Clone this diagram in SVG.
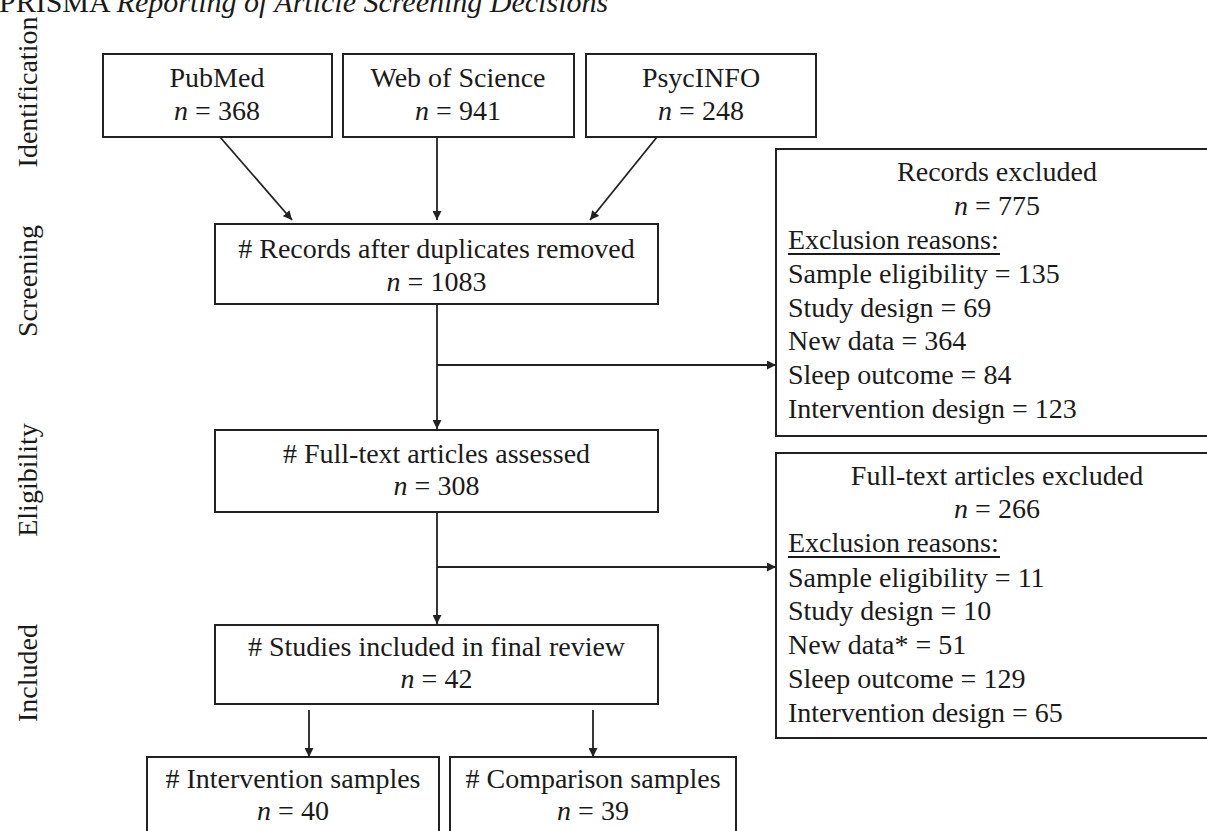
<svg xmlns="http://www.w3.org/2000/svg" width="1207" height="831" viewBox="0 0 1207 831">
<defs>
<style>
text{font-family:"Liberation Serif","Times New Roman",serif;font-size:28px;fill:#1a1a1a}
.c{text-anchor:middle}
.box{fill:#fff;stroke:#222;stroke-width:2}
.ln{stroke:#222;stroke-width:1.8;fill:none}
.it{font-style:italic}
.ul{stroke:#1a1a1a;stroke-width:2}
.title{font-size:30px}
</style>
<marker id="ah" viewBox="0 0 10 10" refX="10" refY="5" markerWidth="9" markerHeight="9" markerUnits="userSpaceOnUse" orient="auto">
<path d="M0,0 L10,5 L0,10 z" fill="#222"/>
</marker>
</defs>
<rect width="1207" height="831" fill="#fff"/>
<text class="title" x="-1" y="12">PRISMA <tspan class="it">Reporting of Article Screening Decisions</tspan></text>
<g id="phase-labels">
<text class="c" transform="translate(37,92) rotate(-90)">Identification</text>
<text class="c" transform="translate(37,281) rotate(-90)">Screening</text>
<text class="c" transform="translate(37,480) rotate(-90)">Eligibility</text>
<text class="c" transform="translate(37,673) rotate(-90)">Included</text>
</g>
<g id="connectors">
<line class="ln" x1="220" y1="137" x2="292" y2="220" marker-end="url(#ah)"/>
<line class="ln" x1="437" y1="137" x2="437" y2="220" marker-end="url(#ah)"/>
<line class="ln" x1="657" y1="137" x2="590" y2="220" marker-end="url(#ah)"/>
<line class="ln" x1="437" y1="304" x2="437" y2="429" marker-end="url(#ah)"/>
<line class="ln" x1="437" y1="365" x2="776" y2="365" marker-end="url(#ah)"/>
<line class="ln" x1="437" y1="512" x2="437" y2="624" marker-end="url(#ah)"/>
<line class="ln" x1="437" y1="567" x2="776" y2="567" marker-end="url(#ah)"/>
<line class="ln" x1="309" y1="710" x2="309" y2="757" marker-end="url(#ah)"/>
<line class="ln" x1="593" y1="710" x2="593" y2="757" marker-end="url(#ah)"/>
</g>
<g id="pubmed">
<rect class="box" x="103" y="54" width="229" height="83"/>
<text class="c" x="217" y="87">PubMed</text>
<text class="c" x="217" y="120"><tspan class="it">n</tspan> = 368</text>
</g>
<g id="wos">
<rect class="box" x="343" y="54" width="231" height="83"/>
<text class="c" x="458" y="87">Web of Science</text>
<text class="c" x="458" y="120"><tspan class="it">n</tspan> = 941</text>
</g>
<g id="psycinfo">
<rect class="box" x="586" y="54" width="230" height="83"/>
<text class="c" x="701" y="87">PsycINFO</text>
<text class="c" x="701" y="120"><tspan class="it">n</tspan> = 248</text>
</g>
<g id="records">
<rect class="box" x="215" y="224" width="443" height="80"/>
<text class="c" x="436.5" y="258"># Records after duplicates removed</text>
<text class="c" x="436.5" y="291"><tspan class="it">n</tspan> = 1083</text>
</g>
<g id="records-excluded">
<rect class="box" x="776" y="149" width="445" height="287"/>
<text class="c" x="997" y="181">Records excluded</text>
<text class="c" x="997" y="215"><tspan class="it">n</tspan> = 775</text>
<text x="788" y="249">Exclusion reasons:</text>
<line class="ul" x1="788" y1="254" x2="1000" y2="254"/>
<text x="788" y="283">Sample eligibility = 135</text>
<text x="788" y="317">Study design = 69</text>
<text x="788" y="350">New data = 364</text>
<text x="788" y="384">Sleep outcome = 84</text>
<text x="788" y="418">Intervention design = 123</text>
</g>
<g id="fulltext">
<rect class="box" x="215" y="430" width="443" height="82"/>
<text class="c" x="436.5" y="463"># Full-text articles assessed</text>
<text class="c" x="436.5" y="495"><tspan class="it">n</tspan> = 308</text>
</g>
<g id="fulltext-excluded">
<rect class="box" x="776" y="453" width="445" height="285"/>
<text class="c" x="997" y="485">Full-text articles excluded</text>
<text class="c" x="997" y="518"><tspan class="it">n</tspan> = 266</text>
<text x="788" y="552">Exclusion reasons:</text>
<line class="ul" x1="788" y1="557" x2="1000" y2="557"/>
<text x="788" y="587">Sample eligibility = 11</text>
<text x="788" y="620">Study design = 10</text>
<text x="788" y="654">New data* = 51</text>
<text x="788" y="688">Sleep outcome = 129</text>
<text x="788" y="722">Intervention design = 65</text>
</g>
<g id="studies">
<rect class="box" x="215" y="625" width="443" height="79"/>
<text class="c" x="436.5" y="656"># Studies included in final review</text>
<text class="c" x="436.5" y="688"><tspan class="it">n</tspan> = 42</text>
</g>
<g id="intervention">
<rect class="box" x="147" y="757" width="292" height="90"/>
<text class="c" x="293" y="788"># Intervention samples</text>
<text class="c" x="293" y="820"><tspan class="it">n</tspan> = 40</text>
</g>
<g id="comparison">
<rect class="box" x="450" y="757" width="286" height="90"/>
<text class="c" x="593" y="788"># Comparison samples</text>
<text class="c" x="593" y="820"><tspan class="it">n</tspan> = 39</text>
</g>
</svg>
